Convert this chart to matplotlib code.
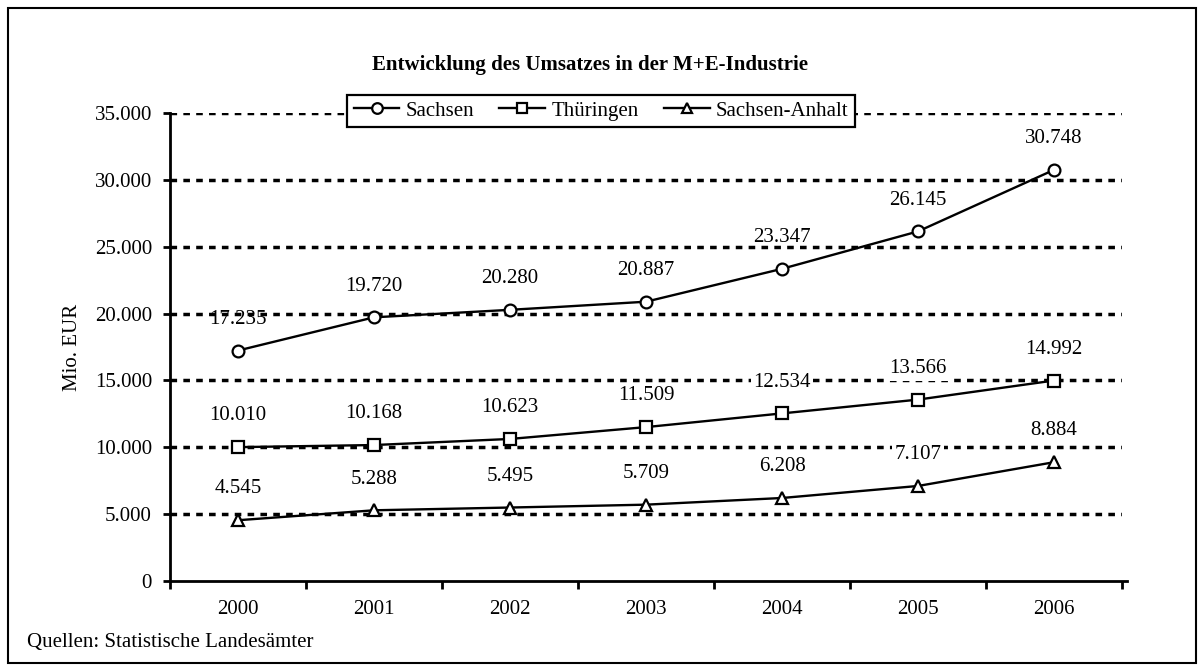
import matplotlib.pyplot as plt
from matplotlib.patches import Rectangle
import numpy as np

plt.rcParams['font.family'] = ['Liberation Serif', 'DejaVu Serif']

# Daten (Mio. EUR)
jahre = ['2000', '2001', '2002', '2003', '2004', '2005', '2006']
sachsen = [17235, 19720, 20280, 20887, 23347, 26145, 30748]
thueringen = [10010, 10168, 10623, 11509, 12534, 13566, 14992]
sachsen_anhalt = [4545, 5288, 5495, 5709, 6208, 7107, 8884]
y_ticks = [0, 5000, 10000, 15000, 20000, 25000, 30000, 35000]

def fmt(v):
    # deutsche Tausenderpunkte
    return f"{v:,}".replace(',', '.')

fs = 15

fig = plt.figure(figsize=(12.04, 6.70), dpi=100)
ax = fig.add_axes([170 / 1204, 1 - 581 / 670, 952 / 1204, 468 / 670])

x = np.arange(len(jahre))

# Gitterlinien
for t in y_ticks[1:]:
    ax.axhline(t, color='black', lw=2.5, ls=(0, (1.9, 1.8)), zorder=1)

# (Name, Werte, Marker, Beschriftung mit weissem Hintergrund?)
serien = [
    ('Sachsen', sachsen, 'o', False),
    ('Thüringen', thueringen, 's', True),
    ('Sachsen-Anhalt', sachsen_anhalt, '^', True),
]
for name, werte, m, box in serien:
    ax.plot(x, werte, color='black', lw=1.7, marker=m, markersize=8.5,
            markerfacecolor='white', markeredgecolor='black', markeredgewidth=1.6,
            label=name, zorder=3)
    for xi, v in zip(x, werte):
        bb = dict(facecolor='white', edgecolor='none', pad=2) if box else None
        ax.annotate(fmt(v), (xi, v), xytext=(0, 22.5), textcoords='offset points',
                    ha='center', va='center', fontsize=fs, zorder=4, bbox=bb)

ax.set_xlim(-0.5, len(jahre) - 0.5)
ax.set_ylim(0, 35000)
ax.set_yticks(y_ticks)
ax.set_yticklabels([fmt(t) for t in y_ticks], fontsize=fs)
ax.set_xticks(x)
ax.set_xticklabels(jahre, fontsize=fs)
ax.tick_params(axis='x', which='major', length=0, pad=14)
ax.set_xticks(np.arange(-0.5, len(jahre), 1.0), minor=True)
ax.tick_params(axis='x', which='minor', length=6, width=2, direction='out')
ax.tick_params(axis='y', length=5, width=2, direction='out', pad=8)

for s in ['top', 'right']:
    ax.spines[s].set_visible(False)
for s in ['left', 'bottom']:
    ax.spines[s].set_linewidth(2)
ax.spines['bottom'].set_bounds(-0.5, len(jahre) - 0.5 + 0.04)

ax.set_ylabel('Mio. EUR', fontsize=fs, labelpad=9)

leg = ax.legend(loc='center', bbox_to_anchor=(601 / 1204, 1 - 111 / 670),
                bbox_transform=fig.transFigure, ncol=3, fontsize=fs,
                frameon=True, fancybox=False, framealpha=1, edgecolor='black',
                handlelength=2.2, handletextpad=0.3, columnspacing=1.2,
                borderpad=0.3, markerscale=0.9)
leg.get_frame().set_linewidth(1.6)

fig.text(590 / 1204, 1 - 65 / 670, 'Entwicklung des Umsatzes in der M+E-Industrie',
         ha='center', va='center', fontsize=fs, fontweight='bold')
fig.text(27 / 1204, 1 - 642 / 670, 'Quellen: Statistische Landesämter',
         ha='left', va='center', fontsize=fs)

fig.patches.append(Rectangle((8 / 1204, 1 - 663 / 670), 1188 / 1204, 655 / 670,
                             transform=fig.transFigure, fill=False,
                             edgecolor='black', lw=1.5))

fig.savefig('out.png', dpi=100)
